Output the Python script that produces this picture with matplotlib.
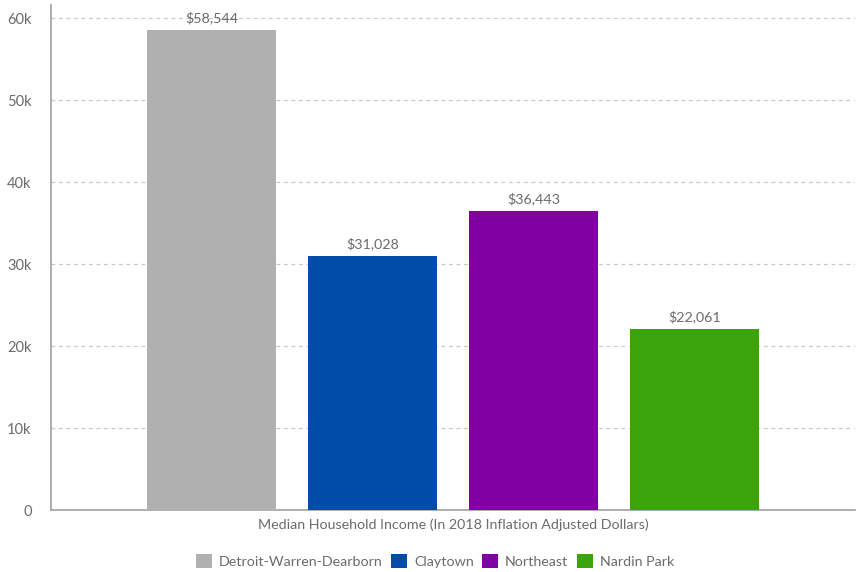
import matplotlib.pyplot as plt
from matplotlib.patches import Patch
from matplotlib.ticker import FuncFormatter

regions = ["Detroit-Warren-Dearborn", "Claytown", "Northeast", "Nardin Park"]
income = [58544, 31028, 36443, 22061]
colors = ["#b0b0b0", "#004da8", "#8000a3", "#3aa40a"]
yticks = [0, 10000, 20000, 30000, 40000, 50000, 60000]

plt.rcParams["font.family"] = ["Lato", "DejaVu Sans"]
text_color = "#6b6b6b"

fig = plt.figure(figsize=(8.59, 5.72), dpi=100)
ax = fig.add_axes([51 / 859, 62 / 572, 804 / 859, 505 / 572])

x = list(range(len(regions)))
bars = ax.bar(x, income, width=0.8, color=colors, zorder=3)
for b, v in zip(bars, income):
    ax.text(b.get_x() + b.get_width() / 2, v + 700, f"${v:,}",
            ha="center", va="bottom", fontsize=10.3, color=text_color, zorder=4)

ax.set_xlim(-1, 4)
ax.set_ylim(0, 61600)
ax.set_yticks(yticks)
ax.yaxis.set_major_formatter(FuncFormatter(lambda v, p: "0" if v == 0 else f"{int(v / 1000)}k"))
ax.set_xticks([])
ax.tick_params(axis="y", length=0, pad=14, labelsize=10.5, labelcolor=text_color)

ax.grid(axis="y", linestyle=(0, (3, 3)), color="#c8c8c8", linewidth=0.9, zorder=0)
ax.yaxis.get_gridlines()[0].set_visible(False)
for side in ["top", "right"]:
    ax.spines[side].set_visible(False)
ax.spines["left"].set_color("#a0a0a0")
ax.spines["bottom"].set_color("#a0a0a0")
ax.spines["left"].set_linewidth(1.2)
ax.spines["bottom"].set_linewidth(1.2)

ax.set_xlabel("Median Household Income (In 2018 Inflation Adjusted Dollars)",
              fontsize=10.3, color=text_color, labelpad=6)

handles = [Patch(facecolor=c, edgecolor="none") for c in colors]
fig.legend(handles, regions, loc="center", bbox_to_anchor=(435 / 859, 1 - 561 / 572),
           ncol=4, frameon=False, fontsize=10.3, labelcolor=text_color,
           handlelength=1.1, handleheight=1.1, handletextpad=0.5, columnspacing=0.6)

fig.savefig("out.png", dpi=100)
